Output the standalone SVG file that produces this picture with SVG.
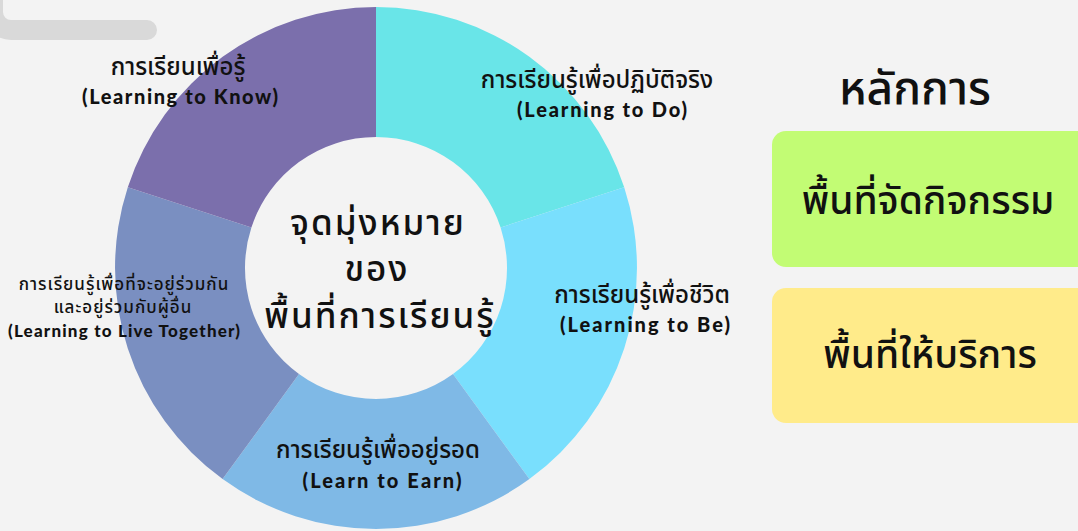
<svg xmlns="http://www.w3.org/2000/svg" width="1078" height="531" viewBox="0 0 1078 531">
<style>
.th{font-family:"Noto Sans Thai","Noto Sans","DejaVu Sans",sans-serif;fill:#111;text-anchor:middle;font-weight:500}
.en{font-family:"Lato","Liberation Sans",sans-serif;font-weight:900;fill:#111;text-anchor:middle;font-size:20px}
.lbl{font-size:24px}
.big{font-size:35px;letter-spacing:2px}
.hd{font-size:39px}
.sm{font-size:17px;letter-spacing:1px}
</style>
<rect width="1078" height="531" fill="#f3f3f3"/>
<path d="M -7 -20 V 12 A 18 18 0 0 0 11 30 H 147" fill="none" stroke="#d9d9d9" stroke-width="20" stroke-linecap="round"/>
<g id="donut">
<g id="seg-do"><path d="M 376 7 A 261 261 0 0 1 624.2 187.3 L 500.6 227.5 A 131 131 0 0 0 376 137 Z" fill="#69e5e8"/></g>
<g id="seg-be"><path d="M 624.2 187.3 A 261 261 0 0 1 529.4 479.1 L 453 374 A 131 131 0 0 0 500.6 227.5 Z" fill="#79dffd"/></g>
<g id="seg-earn"><path d="M 529.4 479.1 A 261 261 0 0 1 222.6 479.1 L 299 374 A 131 131 0 0 0 453 374 Z" fill="#7fb9e6"/></g>
<g id="seg-live"><path d="M 222.6 479.1 A 261 261 0 0 1 127.8 187.3 L 251.4 227.5 A 131 131 0 0 0 299 374 Z" fill="#7a8fc1"/></g>
<g id="seg-know"><path d="M 127.8 187.3 A 261 261 0 0 1 376 7 L 376 137 A 131 131 0 0 0 251.4 227.5 Z" fill="#7b6fac"/></g>
</g>
<g id="center">
<text class="th big"><tspan x="378" y="235">จุดมุ่งหมาย</tspan><tspan x="377" y="281">ของ</tspan><tspan x="380" y="328">พื้นที่การเรียนรู้</tspan></text>
</g>
<g id="know">
<text class="th lbl" x="178" y="75">การเรียนเพื่อรู้</text>
<text class="en" x="180" y="104" textLength="196" lengthAdjust="spacing">(Learning to Know)</text>
</g>
<g id="do">
<text class="th lbl" x="597" y="88">การเรียนรู้เพื่อปฏิบัติจริง</text>
<text class="en" x="602" y="117" textLength="170" lengthAdjust="spacing">(Learning to Do)</text>
</g>
<g id="live">
<text class="th sm"><tspan x="124" y="290">การเรียนรู้เพื่อที่จะอยู่ร่วมกัน</tspan><tspan x="123" y="313">และอยู่ร่วมกับผู้อื่น</tspan></text>
<text class="en" style="font-size:17px" x="124" y="337" textLength="232" lengthAdjust="spacing">(Learning to Live Together)</text>
</g>
<g id="be">
<text class="th lbl" x="642" y="303">การเรียนรู้เพื่อชีวิต</text>
<text class="en" x="645" y="332" textLength="170" lengthAdjust="spacing">(Learning to Be)</text>
</g>
<g id="earn">
<text class="th lbl" x="378" y="458">การเรียนรู้เพื่ออยู่รอด</text>
<text class="en" x="382" y="488" textLength="159" lengthAdjust="spacing">(Learn to Earn)</text>
</g>
<g id="principles">
<text class="th" style="font-size:46px" x="915" y="104">หลักการ</text>
</g>
<g id="box-activity">
<rect x="772" y="131" width="320" height="136" rx="14" fill="#c2fc74"/>
<text class="th hd" x="928" y="214">พื้นที่จัดกิจกรรม</text>
</g>
<g id="box-service">
<rect x="772" y="288" width="320" height="135" rx="14" fill="#ffeb8a"/>
<text class="th hd" x="930" y="368">พื้นที่ให้บริการ</text>
</g>
<g id="connectors"></g>
</svg>
